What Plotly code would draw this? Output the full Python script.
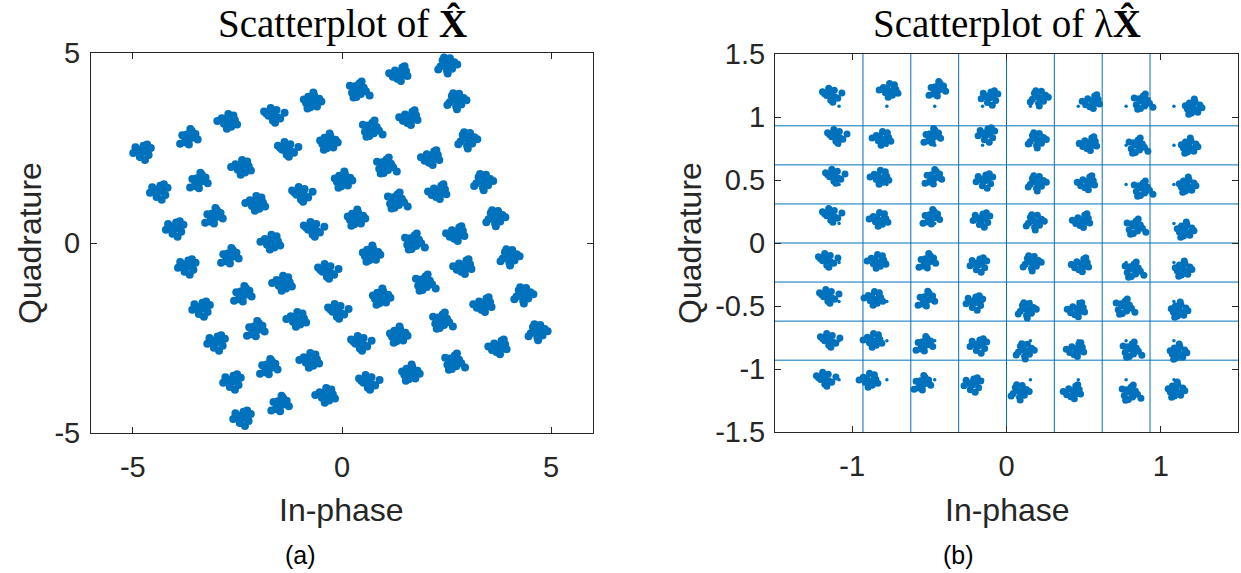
import plotly.graph_objects as go

# ---------------------------------------------------------------
# Received 64-QAM symbols: cluster centres (row by row, top row first)
# ---------------------------------------------------------------
# (a) raw equalised symbols X-hat
xhat_i = [
    -4.78, -3.66, -2.70, -1.67, -0.72, 0.38, 1.39, 2.51,
    -4.38, -3.42, -2.37, -1.34, -0.33, 0.69, 1.63, 2.73,
    -4.00, -3.06, -2.03, -1.00, 0.02, 1.03, 2.15, 2.99,
    -3.71, -2.68, -1.67, -0.72, 0.33, 1.29, 2.32, 3.37,
    -3.37, -2.37, -1.39, -0.38, 0.69, 1.70, 2.75, 3.66,
    -3.01, -2.06, -1.05, -0.14, 0.93, 1.96, 2.92, 4.00,
    -2.63, -1.75, -0.74, 0.41, 1.34, 2.37, 3.40, 4.33,
    -2.39, -1.48, -0.36, 0.60, 1.63, 2.66, 3.76, 4.67,
]
xhat_q = [
    2.39, 2.76, 3.21, 3.37, 3.74, 4.03, 4.45, 4.68,
    1.34, 1.61, 2.00, 2.47, 2.66, 3.00, 3.29, 3.74,
    0.37, 0.68, 1.05, 1.29, 1.66, 2.03, 2.24, 2.71,
    -0.63, -0.37, 0.03, 0.37, 0.66, 1.11, 1.34, 1.61,
    -1.74, -1.37, -1.05, -0.74, -0.29, 0.03, 0.24, 0.66,
    -2.63, -2.29, -2.00, -1.79, -1.42, -1.05, -0.63, -0.37,
    -3.66, -3.29, -3.08, -2.63, -2.42, -2.05, -1.63, -1.37,
    -4.61, -4.26, -4.00, -3.66, -3.42, -3.13, -2.74, -2.34,
]

# (b) scaled symbols lambda * X-hat
lxhat_i = [
    -1.143, -0.753, -0.448, -0.110, 0.208, 0.558, 0.877, 1.208,
    -1.110, -0.799, -0.481, -0.130, 0.195, 0.539, 0.844, 1.182,
    -1.123, -0.812, -0.474, -0.143, 0.195, 0.526, 0.877, 1.169,
    -1.143, -0.818, -0.487, -0.162, 0.182, 0.494, 0.831, 1.156,
    -1.169, -0.831, -0.513, -0.182, 0.162, 0.487, 0.818, 1.143,
    -1.162, -0.851, -0.519, -0.208, 0.130, 0.461, 0.760, 1.117,
    -1.156, -0.857, -0.532, -0.182, 0.117, 0.455, 0.805, 1.110,
    -1.182, -0.883, -0.545, -0.221, 0.084, 0.435, 0.799, 1.097,
]
lxhat_q = [
    1.175, 1.214, 1.214, 1.151, 1.151, 1.119, 1.119, 1.079,
    0.849, 0.833, 0.841, 0.857, 0.817, 0.786, 0.770, 0.770,
    0.532, 0.524, 0.516, 0.492, 0.476, 0.476, 0.429, 0.460,
    0.222, 0.190, 0.198, 0.183, 0.167, 0.175, 0.127, 0.103,
    -0.135, -0.143, -0.151, -0.175, -0.159, -0.175, -0.214, -0.206,
    -0.421, -0.437, -0.452, -0.476, -0.532, -0.532, -0.508, -0.532,
    -0.770, -0.770, -0.810, -0.817, -0.857, -0.849, -0.849, -0.865,
    -1.079, -1.087, -1.119, -1.127, -1.183, -1.183, -1.190, -1.167,
]

# Noise spread of the received samples around each cluster centre
noise_dx = [
    [0.00, 0.25, -0.30, 0.45, -0.15, 0.10, 0.60, -0.60, 0.20, -0.10, 0.35, -0.45],
    [0.10, -0.20, 0.35, -0.40, 0.05, 0.30, -0.10, 0.55, -0.55, 0.20, -0.25, 0.85],
    [-0.05, 0.20, -0.35, 0.40, 0.15, -0.20, 0.50, -0.50, 0.05, 0.30, -0.75, 0.25],
    [0.05, -0.15, 0.30, -0.30, 0.45, 0.00, -0.45, 0.20, 0.60, -0.20, 0.10, -0.60],
    [0.00, 0.30, -0.25, 0.15, -0.40, 0.50, -0.10, 0.35, -0.55, 0.65, 0.10, -0.30],
    [-0.10, 0.15, -0.30, 0.35, 0.00, -0.45, 0.50, 0.20, -0.20, 0.70, -0.60, 0.05],
    [0.05, -0.25, 0.25, -0.35, 0.40, -0.05, 0.15, -0.50, 0.55, -0.15, 0.30, -0.80],
    [0.00, 0.20, -0.20, 0.40, -0.40, 0.10, -0.10, 0.55, -0.55, 0.25, -0.30, 0.80],
]
noise_dy = [
    [0.00, 0.15, 0.10, -0.20, -0.35, 0.45, 0.30, -0.05, -0.55, 0.15, 0.55, 0.35],
    [0.05, 0.20, -0.15, 0.10, -0.40, 0.35, 0.50, -0.25, 0.25, -0.55, -0.05, 0.15],
    [0.10, -0.10, 0.25, 0.20, 0.45, -0.35, -0.15, -0.20, -0.50, 0.55, 0.05, 0.30],
    [-0.05, 0.25, 0.05, -0.30, 0.30, -0.45, 0.20, 0.50, -0.10, -0.15, 0.65, -0.40],
    [0.00, -0.20, 0.30, 0.40, -0.15, 0.15, -0.45, -0.40, 0.10, -0.05, 0.60, -0.55],
    [0.10, 0.00, 0.35, -0.25, -0.40, -0.10, 0.20, 0.50, 0.55, 0.05, -0.30, -0.60],
    [-0.10, 0.15, 0.35, -0.20, 0.05, 0.50, -0.40, 0.20, -0.25, -0.55, 0.40, 0.00],
    [0.05, -0.30, 0.25, 0.15, -0.20, 0.45, -0.50, -0.10, 0.30, 0.60, -0.55, -0.40],
]

# Ideal 64-QAM reference levels and decision boundaries for panel (b)
ref_levels = [-1.085, -0.775, -0.465, -0.155, 0.155, 0.465, 0.775, 1.085]
boundaries = [-0.93, -0.62, -0.31, 0.0, 0.31, 0.62, 0.93]

# Axis ticks
a_ticks = [-5, 0, 5]
a_ticktext = ["-5", "0", "5"]
b_xticks = [-1, 0, 1]
b_xticktext = ["-1", "0", "1"]
b_yticks = [-1.5, -1, -0.5, 0, 0.5, 1, 1.5]
b_yticktext = ["-1.5", "-1", "-0.5", "0", "0.5", "1", "1.5"]


def spread(ci, cq, sx, sy, step, shift):
    xs, ys = [], []
    for k, (x0, y0) in enumerate(zip(ci, cq)):
        p = (k * step + shift) % len(noise_dx)
        xs += [x0 + sx * d for d in noise_dx[p]]
        ys += [y0 + sy * d for d in noise_dy[p]]
    return xs, ys


BLUE = "#0072BD"
AX = "#262626"
W, H = 1241, 573

ax_i, ax_q = spread(xhat_i, xhat_q, 0.35, 0.37, 3, 0)
bx_i, bx_q = spread(lxhat_i, lxhat_q, 0.09, 0.105, 5, 1)

ref_i = [x for _ in ref_levels for x in ref_levels]
ref_q = [y for y in ref_levels for _ in ref_levels]

fig = go.Figure()
fig.add_trace(go.Scatter(x=ax_i, y=ax_q, mode="markers", xaxis="x", yaxis="y",
                         marker=dict(color=BLUE, size=8, line=dict(width=0)),
                         showlegend=False, hoverinfo="skip"))
fig.add_trace(go.Scatter(x=bx_i, y=bx_q, mode="markers", xaxis="x2", yaxis="y2",
                         marker=dict(color=BLUE, size=7, line=dict(width=0)),
                         showlegend=False, hoverinfo="skip"))
fig.add_trace(go.Scatter(x=ref_i, y=ref_q, mode="markers", xaxis="x2", yaxis="y2",
                         marker=dict(color=BLUE, size=3.5, line=dict(width=0)),
                         showlegend=False, hoverinfo="skip"))

# decision boundaries
for b in boundaries:
    fig.add_shape(type="line", xref="x2", yref="y2 domain", x0=b, x1=b, y0=0, y1=1,
                  line=dict(color=BLUE, width=1), layer="below")
    fig.add_shape(type="line", xref="x2 domain", yref="y2", x0=0, x1=1, y0=b, y1=b,
                  line=dict(color=BLUE, width=1), layer="below")

tickfont = dict(family="Liberation Sans, Arial, sans-serif", size=29, color=AX)
axis_common = dict(showline=True, mirror="ticks", linecolor=AX, linewidth=1,
                   ticks="inside", ticklen=6, tickcolor=AX, tickwidth=1,
                   showgrid=False, zeroline=False, tickfont=tickfont,
                   tickmode="array", fixedrange=True, automargin=False)


def px_x(a, b):
    return [a / W, b / W]


def px_y(top, bottom):
    return [1 - bottom / H, 1 - top / H]


fig.update_layout(
    width=W, height=H,
    margin=dict(l=0, r=0, t=0, b=0, pad=0),
    paper_bgcolor="white", plot_bgcolor="white",
    xaxis=dict(domain=px_x(91, 593), range=[-6, 6], anchor="y",
               tickvals=a_ticks, ticktext=a_ticktext, ticklabelstandoff=8, **axis_common),
    yaxis=dict(domain=px_y(53, 433), range=[-5, 5], anchor="x",
               tickvals=a_ticks, ticktext=a_ticktext, ticklabelstandoff=4, **axis_common),
    xaxis2=dict(domain=px_x(775, 1238), range=[-1.5, 1.5], anchor="y2",
                tickvals=b_xticks, ticktext=b_xticktext, ticklabelstandoff=8, **axis_common),
    yaxis2=dict(domain=px_y(54, 432), range=[-1.5, 1.5], anchor="x2",
                tickvals=b_yticks, ticktext=b_yticktext, ticklabelstandoff=3, **axis_common),
)

title_font = dict(family="Liberation Serif, Times New Roman, serif", size=39, color="black")
label_font = dict(family="Liberation Sans, Arial, sans-serif", size=32, color=AX)
cap_font = dict(family="Liberation Sans, Arial, sans-serif", size=25, color="black")


def note(text, x, y, font, angle=0):
    fig.add_annotation(text=text, x=x / W, y=1 - y / H, xref="paper", yref="paper",
                       xanchor="center", yanchor="middle", showarrow=False,
                       font=font, textangle=angle)


note("Scatterplot of <b>X\u0302</b>", 342, 24, title_font)
note("Scatterplot of \u03bb<b>X\u0302</b>", 1007, 24, title_font)
note("In-phase", 341, 510, label_font)
note("In-phase", 1007, 510, label_font)
note("Quadrature", 30, 243, label_font, -90)
note("Quadrature", 690, 243, label_font, -90)
note("(a)", 300, 555, cap_font)
note("(b)", 958, 555, cap_font)

fig.write_html("out.html")
